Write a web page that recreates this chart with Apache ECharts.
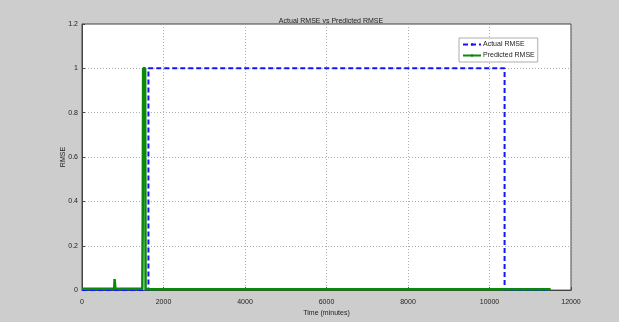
<!DOCTYPE html>
<html><head><meta charset="utf-8">
<script src="https://cdn.jsdelivr.net/npm/echarts@6/dist/echarts.min.js"></script>
<style>html,body{margin:0;padding:0;background:#cdcdcd;}#c{width:619px;height:322px;}</style>
</head><body><div id="c"></div>
<script>
var titleText = 'Actual RMSE vs Predicted RMSE';
var xName = 'Time (minutes)';
var yName = 'RMSE';
var seriesNames = ['Actual RMSE', 'Predicted RMSE'];
var actualX = [0, 1630, 1630, 10370, 10370, 11500];
var actualY = [0, 0, 1, 1, 0, 0];
var predX = [0, 300, 310, 320, 790, 800, 810, 820, 1480, 1490, 1500, 1510, 1550, 1560, 1580, 3000, 3010, 3020, 5700, 5710, 5720, 8700, 8710, 8720, 10800, 10810, 10820, 11500];
var predY = [0.006, 0.006, 0.01, 0.006, 0.006, 0.05, 0.05, 0.006, 0.006, 0.3, 1, 1, 1, 0.004, 0.004, 0.004, 0.01, 0.004, 0.004, 0.01, 0.004, 0.004, 0.01, 0.004, 0.004, 0.01, 0.004, 0.004];

function pairs(xs, ys){ return xs.map(function(x,i){return [x, ys[i]];}); }

var chart = echarts.init(document.getElementById('c'));
var tickFont = {fontFamily:'Liberation Sans', fontSize:7, color:'#222'};
chart.setOption({
  backgroundColor:'#cdcdcd',
  animation:false,
  title:{text:titleText, left:326, top:13, textAlign:'center', textStyle:{fontFamily:'Liberation Sans', fontSize:7, fontWeight:'normal', color:'#222'}},
  legend:{
    data:[{name:seriesNames[0]},{name:seriesNames[1]}],
    orient:'vertical', left:459, top:38, itemWidth:18, itemHeight:3, itemGap:4,
    padding:[3,3,3,3],
    backgroundColor:'#fff', borderColor:'#777', borderWidth:0.6,
    textStyle:{fontFamily:'Liberation Sans', fontSize:7, color:'#222', padding:[0,0,0,-3]}
  },
  grid:{left:82, right:48, top:24, bottom:26, show:true, backgroundColor:'#fff', borderColor:'#444', borderWidth:1},
  xAxis:{type:'value', min:0, max:12000, interval:2000,
    name:xName, nameLocation:'middle', nameGap:12, nameTextStyle:tickFont,
    axisLine:{show:true, lineStyle:{color:'#444', width:1}},
    axisTick:{show:true, inside:true, length:3, lineStyle:{color:'#444'}},
    axisLabel:{fontFamily:'Liberation Sans', fontSize:7, color:'#222', formatter:function(v){return String(v);}},
    splitLine:{show:true, lineStyle:{color:'#999', type:[1,2], width:0.8}}},
  yAxis:{type:'value', min:0, max:1.2, interval:0.2,
    name:yName, nameLocation:'middle', nameGap:15, nameRotate:90, nameMoveOverlap:false, nameTextStyle:tickFont,
    axisLine:{show:true, lineStyle:{color:'#444', width:1}},
    axisTick:{show:true, inside:true, length:3, lineStyle:{color:'#444'}},
    axisLabel:{fontFamily:'Liberation Sans', fontSize:7, color:'#222', margin:4, formatter:function(v){return v===0?'0':String(Math.round(v*10)/10);}},
    splitLine:{show:true, lineStyle:{color:'#999', type:[1,2], width:0.8}}},
  series:[
    {name:seriesNames[0], type:'line', data:pairs(actualX, actualY), showSymbol:false, symbol:'none',
     lineStyle:{color:'#1414ff', width:2, type:[5,3]}, itemStyle:{color:'#1414ff'}, z:2},
    {name:seriesNames[1], type:'line', data:pairs(predX, predY), showSymbol:false, symbol:'none',
     lineStyle:{color:'#0a8a0a', width:2.5}, itemStyle:{color:'#0a8a0a'}, z:3}
  ]
});
</script></body></html>
